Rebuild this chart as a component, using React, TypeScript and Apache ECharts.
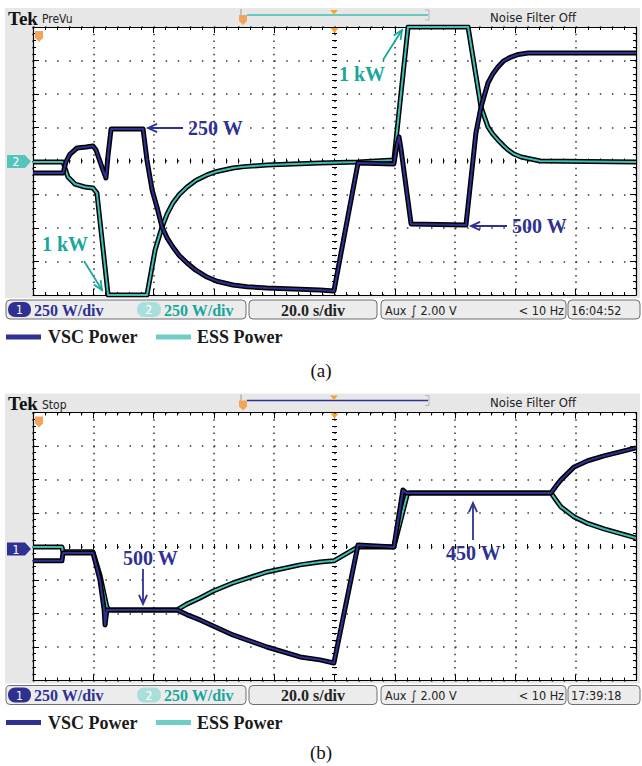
import React, { useEffect, useRef } from "react";
import * as echarts from "echarts";

// ---- axes (oscilloscope graticule: 10 x 20 s, 8 x 250 W) ----
const TIME_MIN = 0;
const TIME_MAX = 200;
const TIME_DIV = 20;
const POWER_MIN = -1000;
const POWER_MAX = 1000;
const POWER_DIV = 250;

// ---- panel (a): [time s, power W] ----
const vscA: number[][] = [
  [0, -90], [10, -90], [10.9, -7], [12.3, 52], [14.6, 97], [17.6, 104], [19.9, 112],
  [20.9, 82], [23.2, -67], [24.2, -127], [24.9, 45], [25.9, 239], [36.5, 239],
  [37.8, 7], [39.5, -216], [41.1, -343], [42.8, -493], [44.5, -575], [46.4, -642],
  [48.5, -705], [51.1, -761], [54, -815], [57.7, -866], [61, -897], [66.3, -925],
  [71, -938], [77.6, -948], [95.2, -963], [99.8, -970], [107.8, -15],
  [119.7, -22], [120.7, 119], [121.4, 179], [122.1, 82], [125.4, -470], [143.6, -478],
  [146.3, 82], [146.9, 209], [148.6, 403], [150.9, 582], [152.5, 650], [154.2, 702],
  [156, 745], [158.5, 776], [161, 795], [164.2, 806], [200, 806],
];
const essA: number[][] = [
  [0, -7], [10, -7], [10.6, -52], [11.6, -119], [13.9, -172], [17.2, -194], [19.9, -201],
  [21.2, -239], [24.9, -1000], [37.8, -1000], [40.5, -664], [42.8, -493], [44.5, -395],
  [46.4, -313], [48.5, -250], [51.1, -194], [54, -145], [57.7, -104], [61, -78],
  [66.3, -52], [70, -42], [77.6, -30], [95.2, -15], [107.8, -7],
  [119.7, 7], [124.4, 1000], [144.3, 1000], [148.6, 403], [150.9, 254], [152.5, 200],
  [154.2, 157], [156, 115], [157.6, 82], [159.5, 52], [161.9, 30], [168.2, 0], [200, -7],
];

// ---- panel (b): [time s, power W] ----
const vscB: number[][] = [
  [0, -107], [9.6, -107], [9.95, -48], [19.9, -48], [22.2, -249], [23.6, -473],
  [23.9, -585], [24.5, -473], [47.8, -473], [51, -508], [55.4, -548], [66.3, -660], [77.6, -750],
  [88.6, -824], [95.2, -846], [99.8, -869], [107.8, 12], [119.7, -3], [122.7, 422],
  [123.7, 400], [171.8, 400], [173.5, 452], [175.1, 497], [179.5, 594], [184, 640], [189.4, 676], [200, 736],
];
const essB: number[][] = [
  [0, -3], [9.6, -3], [9.95, -40], [19.9, -40], [22.2, -212], [24.5, -451], [25.2, -473],
  [47.8, -473], [51, -430], [55.4, -384], [60, -330], [66.3, -272], [77.6, -190], [88.6, -137], [95.2, -115],
  [99.8, -107], [107.8, -3], [119.7, -3], [124.1, 385], [125.0, 400], [171.8, 400],
  [173.5, 345], [175.1, 296], [179.5, 221], [184, 172], [189.4, 131], [200, 64],
];

const SERIES_NAMES = ["VSC Power", "ESS Power"];
const PANEL_LABELS = ["(a)", "(b)"];
const MODES = ["PreVu", "Stop"];
const CLOCKS = ["16:04:52", "17:39:18"];
const SCALE_TEXT = "250 W/div";
const TIME_TEXT = "20.0 s/div";

const NAVY = "#2e3192";
const TEAL = "#3dbfb5";
const TEAL_TEXT = "#17a79c";
const TEAL_LEGEND = "#70ccc7";
const ORANGE = "#f2a55a";

const SERIF = "'Liberation Serif', 'Times New Roman', serif";
const SANS = "'Liberation Sans Narrow', 'DejaVu Sans Condensed', 'Liberation Sans', sans-serif";

const GRID_LEFT = 33;
const GRID_W = 603;
const GRID_H = 268;
const GRID_TOPS = [27, 412.5];
const OFFS = [0, 385.5];

function txt(x: number, y: number, text: string, font: string, fill: string, align = "left", z = 30) {
  return { type: "text", x, y, z, silent: true, style: { text, font, fill, align, verticalAlign: "middle" } };
}

function arrow(x1: number, y1: number, x2: number, y2: number, color: string) {
  const ang = Math.atan2(y2 - y1, x2 - x1);
  const L = 10;
  const a = 0.42;
  const p1 = [x2 - L * Math.cos(ang - a), y2 - L * Math.sin(ang - a)];
  const p2 = [x2 - L * Math.cos(ang + a), y2 - L * Math.sin(ang + a)];
  return [
    { type: "line", z: 30, silent: true, shape: { x1, y1, x2, y2 }, style: { stroke: color, lineWidth: 1.8 } },
    { type: "polyline", z: 30, silent: true, shape: { points: [p1, [x2, y2], p2] }, style: { stroke: color, lineWidth: 1.8, fill: null } },
  ];
}

function chrome(i: number) {
  const oy = OFFS[i];
  const barColor = i === 0 ? TEAL : NAVY;
  const chColor = i === 0 ? "#55c4bb" : NAVY;
  const chNum = i === 0 ? "2" : "1";
  const chY = i === 0 ? 161.5 : 163.5;
  const els: any[] = [];
  els.push({ type: "rect", z: -10, silent: true, shape: { x: 5, y: 8 + oy, width: 635, height: 290 }, style: { fill: "#e7e7e7" } });
  els.push({ type: "rect", z: -9, silent: true, shape: { x: GRID_LEFT, y: GRID_TOPS[i], width: GRID_W, height: GRID_H }, style: { fill: "#ffffff" } });
  els.push(txt(8, 18 + oy, "Tek", `bold 19px ${SERIF}`, "#111"));
  els.push(txt(42, 19 + oy, MODES[i], `12px ${SANS}`, "#222"));
  // record bar
  els.push({ type: "line", z: 5, silent: true, shape: { x1: 247, y1: 15 + oy, x2: 428, y2: 15 + oy }, style: { stroke: barColor, lineWidth: 1.5 } });
  els.push({ type: "polyline", z: 5, silent: true, shape: { points: [[425, 10 + oy], [429, 10 + oy], [429, 20 + oy], [425, 20 + oy]] }, style: { stroke: "#b5b5b5", lineWidth: 1, fill: null } });
  els.push({ type: "line", z: 5, silent: true, shape: { x1: 241, y1: 9 + oy, x2: 241, y2: 16 + oy }, style: { stroke: "#b5b5b5", lineWidth: 1.5 } });
  els.push({ type: "polygon", z: 6, silent: true, shape: { points: [[239, 15 + oy], [247, 15 + oy], [247, 21 + oy], [243, 25 + oy], [239, 21 + oy]] }, style: { fill: ORANGE } });
  els.push({ type: "polygon", z: 6, silent: true, shape: { points: [[330, 10 + oy], [338, 10 + oy], [334, 14.5 + oy]] }, style: { fill: "#f5a623" } });
  els.push(txt(533, 17 + oy, "Noise Filter Off", `13px ${SANS}`, "#222", "center"));
  // trigger markers
  els.push({ type: "polygon", z: 6, silent: true, shape: { points: [[330.5, GRID_TOPS[i] + 1], [338.5, GRID_TOPS[i] + 1], [334.5, GRID_TOPS[i] + 6]] }, style: { fill: "#f5a623" } });
  els.push({ type: "polygon", z: 6, silent: true, shape: { points: [[35, GRID_TOPS[i] + 4], [43, GRID_TOPS[i] + 4], [43, GRID_TOPS[i] + 11], [39, GRID_TOPS[i] + 15], [35, GRID_TOPS[i] + 11]] }, style: { fill: ORANGE } });
  // channel marker
  const cy = chY + oy;
  els.push({ type: "polygon", z: 6, silent: true, shape: { points: [[7, cy - 6.5], [25, cy - 6.5], [31, cy], [25, cy + 6.5], [7, cy + 6.5]] }, style: { fill: chColor } });
  els.push(txt(16, cy + 0.5, chNum, `12px ${SANS}`, "#ffffff", "center"));
  // status bar
  const y0 = 300 + oy;
  const box = (x: number, w: number) => ({ type: "rect", z: 1, silent: true, shape: { x, y: y0, width: w, height: 19, r: 4 }, style: { fill: "#ececec", stroke: "#6e6e6e", lineWidth: 1 } });
  els.push(box(6, 240), box(249, 128), box(381, 185), box(568, 72));
  els.push({ type: "rect", z: 2, silent: true, shape: { x: 8, y: y0 + 2, width: 23, height: 15, r: 7 }, style: { fill: NAVY } });
  els.push(txt(19.5, y0 + 10, "1", `12px ${SANS}`, "#fff", "center"));
  els.push(txt(34, y0 + 10, SCALE_TEXT, `bold 16px ${SERIF}`, NAVY));
  els.push({ type: "rect", z: 2, silent: true, shape: { x: 137, y: y0 + 2, width: 24, height: 15, r: 7 }, style: { fill: "#a9dfdb" } });
  els.push(txt(149, y0 + 10, "2", `12px ${SANS}`, "#fff", "center"));
  els.push(txt(164, y0 + 10, SCALE_TEXT, `bold 16px ${SERIF}`, TEAL_TEXT));
  els.push(txt(313, y0 + 10, TIME_TEXT, `bold 16px ${SERIF}`, "#222", "center"));
  els.push(txt(385, y0 + 10, "Aux", `12.5px ${SANS}`, "#222"));
  els.push(txt(411, y0 + 10, "\u222B 2.00 V", `12.5px ${SANS}`, "#222"));
  els.push(txt(564, y0 + 10, "< 10 Hz", `12.5px ${SANS}`, "#222", "right"));
  els.push(txt(571, y0 + 10, CLOCKS[i], `12.5px ${SANS}`, "#222"));
  // legend
  const ly = 337 + oy;
  els.push({ type: "rect", z: 2, silent: true, shape: { x: 6, y: ly - 2.5, width: 35, height: 5 }, style: { fill: NAVY } });
  els.push(txt(48, ly, SERIES_NAMES[0], `bold 18px ${SERIF}`, "#1a1a1a"));
  els.push({ type: "rect", z: 2, silent: true, shape: { x: 156, y: ly - 2.5, width: 35, height: 5 }, style: { fill: TEAL_LEGEND } });
  els.push(txt(197, ly, SERIES_NAMES[1], `bold 18px ${SERIF}`, "#1a1a1a"));
  els.push(txt(321, 370 + (i === 0 ? 0 : 382), PANEL_LABELS[i], `19px ${SERIF}`, "#111", "center"));
  return els;
}

function axesFor(gi: number) {
  const base = {
    gridIndex: gi,
    type: "value",
    axisLabel: { show: false },
    axisPointer: { show: false },
  };
  const tick = { show: true, inside: true, length: 6, lineStyle: { color: "#000", width: 1 } };
  const minor = { show: true, splitNumber: 5, length: 3, lineStyle: { color: "#000", width: 1 } };
  const line = { show: true, onZero: false, lineStyle: { color: "#000", width: 1.2 } };
  const xr = { min: TIME_MIN, max: TIME_MAX, interval: TIME_DIV };
  const yr = { min: POWER_MIN, max: POWER_MAX, interval: POWER_DIV };
  const xs = [
    { ...base, ...xr, position: "bottom", axisLine: line, axisTick: tick, minorTick: minor,
      splitLine: { show: true, lineStyle: { color: "#333", width: 1.5, type: [1.5, 5.2] } } },
    { ...base, ...xr, position: "top", axisLine: line, axisTick: tick, minorTick: minor, splitLine: { show: false } },
    { ...base, ...xr, position: "bottom", offset: -(GRID_H / 2 - 2.5), axisLine: { show: false, onZero: false },
      axisTick: { show: true, inside: true, length: 5, lineStyle: { color: "#000" } },
      minorTick: { show: true, splitNumber: 5, length: 5, lineStyle: { color: "#000" } }, splitLine: { show: false } },
  ];
  const ys = [
    { ...base, ...yr, position: "left", axisLine: line, axisTick: tick, minorTick: minor,
      splitLine: { show: true, lineStyle: { color: "#333", width: 1.5, type: [1.5, 10.56] } } },
    { ...base, ...yr, position: "right", axisLine: line, axisTick: tick, minorTick: minor, splitLine: { show: false } },
    { ...base, ...yr, position: "left", offset: -(GRID_W / 2 - 2.5), axisLine: { show: false, onZero: false },
      axisTick: { show: true, inside: true, length: 5, lineStyle: { color: "#000" } },
      minorTick: { show: true, splitNumber: 5, length: 5, lineStyle: { color: "#000" } }, splitLine: { show: false } },
  ];
  return { xs, ys };
}

function seriesFor(gi: number, vsc: number[][], ess: number[][]) {
  const mk = (name: string, data: number[][], color: string, width: number, z: number) => ({
    type: "line", name, data, xAxisIndex: gi * 3, yAxisIndex: gi * 3, showSymbol: false, symbol: "none",
    silent: true, z, clip: true, lineStyle: { color, width, join: "round" },
  });
  return [
    mk(SERIES_NAMES[1] + " outline", ess, "#000", 5, 3),
    mk(SERIES_NAMES[1], ess, TEAL, 2, 4),
    mk(SERIES_NAMES[0] + " outline", vsc, "#000", 5, 5),
    mk(SERIES_NAMES[0], vsc, NAVY, 2, 6),
  ];
}

export default function App() {
  const ref = useRef<HTMLDivElement>(null);
  useEffect(() => {
    if (!ref.current) return;
    const chart = echarts.init(ref.current, null, { renderer: "svg" });
    const a0 = axesFor(0);
    const a1 = axesFor(1);
    const annotations: any[] = [
      txt(188, 128, "250 W", `bold 20px ${SERIF}`, NAVY),
      ...arrow(183, 128, 148, 128, NAVY),
      txt(42, 244, "1 kW", `bold 20px ${SERIF}`, TEAL_TEXT),
      ...arrow(84, 261, 102, 290, TEAL_TEXT),
      txt(339, 74, "1 kW", `bold 20px ${SERIF}`, TEAL_TEXT),
      ...arrow(383, 60, 402, 30, TEAL_TEXT),
      txt(512, 226, "500 W", `bold 20px ${SERIF}`, NAVY),
      ...arrow(507, 226, 471, 226, NAVY),
      txt(123, 558, "500 W", `bold 20px ${SERIF}`, NAVY),
      ...arrow(143, 569, 143, 604, NAVY),
      txt(446, 553, "450 W", `bold 20px ${SERIF}`, NAVY),
      ...arrow(473, 540, 473, 503, NAVY),
    ];
    chart.setOption({
      animation: false,
      backgroundColor: "#ffffff",
      grid: GRID_TOPS.map((top) => ({ left: GRID_LEFT, top, width: GRID_W, height: GRID_H, containLabel: false })),
      xAxis: [...a0.xs, ...a1.xs],
      yAxis: [...a0.ys, ...a1.ys],
      series: [...seriesFor(0, vscA, essA), ...seriesFor(1, vscB, essB)],
      graphic: { elements: [...chrome(0), ...chrome(1), ...annotations] },
    });
    return () => chart.dispose();
  }, []);
  return <div ref={ref} style={{ position: "absolute", left: 0, top: 0, width: 642, height: 766 }} />;
}
